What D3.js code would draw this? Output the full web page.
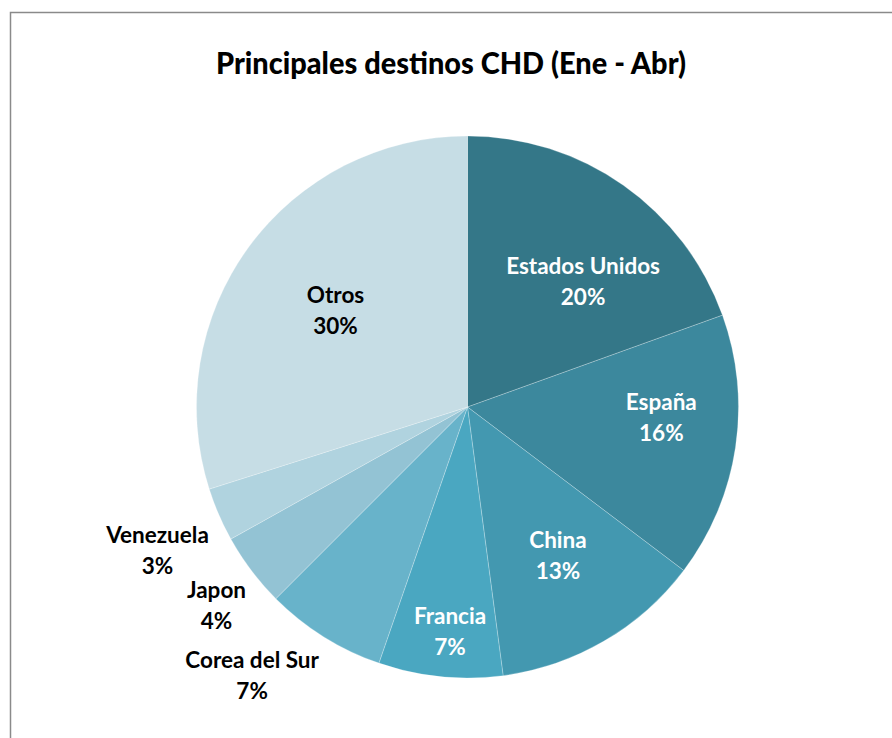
<!DOCTYPE html>
<html>
<head>
<meta charset="utf-8">
<script src="https://cdn.jsdelivr.net/npm/d3@7"></script>
<style>
  body { margin: 0; background: #fff; }
  text { font-family: Lato, "Open Sans", sans-serif; font-weight: bold; }
</style>
</head>
<body>
<div class="chart"></div>
<script>
var width = 892,
    height = 738;

// datos (porcentaje de participacion, Ene - Abr)
var paises = ["Estados Unidos", "España", "China", "Francia", "Corea del Sur", "Japon", "Venezuela", "Otros"];
var valores = [19.5, 15.8, 12.6, 7.4, 7.2, 4.4, 3.2, 29.9];
var colores = ["#347788", "#3c889d", "#4398b0", "#4aa7c1", "#68b3ca", "#93c3d4", "#b0d3df", "#c6dde5"];
var titulo = "Principales destinos CHD (Ene - Abr)";

// label placement: [radius factor, angle offset in degrees]
var etiquetas = [[0.63, 7.5], [0.716, -5.8], [0.64, -1.2], [0.83, -1.3],
                 [1.27, 6.7], [1.18, -1.2], [1.26, -1.4], [0.605, 0.2]];

var cx = 467.5, cy = 407, radius = 271;

var svg = d3.select(".chart").append("svg")
    .attr("width", width)
    .attr("height", height);

// chart frame (goes past the right / bottom edge)
svg.append("rect")
    .attr("x", 10.5)
    .attr("y", 12.5)
    .attr("width", 920)
    .attr("height", 800)
    .style("fill", "none")
    .style("stroke", "#8a8a8a")
    .style("stroke-width", 1.5);

svg.append("text")
    .attr("x", 451)
    .attr("y", 74)
    .attr("text-anchor", "middle")
    .attr("textLength", 470)
    .attr("lengthAdjust", "spacingAndGlyphs")
    .style("font-size", "30px")
    .style("font-weight", 900)
    .style("fill", "#000")
    .text(titulo);

var datos = paises.map((p, i) => ({ pais: p, valor: valores[i], color: colores[i], lab: etiquetas[i] }));

var pie = d3.pie()
    .value(d => d.valor)
    .sort(null);

var arc = d3.arc()
    .innerRadius(0)
    .outerRadius(radius);

const g = svg.append("g")
    .attr("transform", `translate(${cx}, ${cy})`);

var arcos = pie(datos);

g.selectAll("path")
    .data(arcos)
    .enter().append("path")
    .attr("d", arc)
    .style("fill", d => d.data.color)
    .style("stroke", "#ffffff")
    .style("stroke-opacity", 0.3)
    .style("stroke-width", 0.8);

var lbl = g.selectAll("g.lbl")
    .data(arcos)
    .enter().append("g")
    .attr("class", "lbl")
    .attr("transform", d => {
        var a = (d.startAngle + d.endAngle) / 2 + d.data.lab[1] * Math.PI / 180;
        var r = radius * d.data.lab[0];
        return `translate(${r * Math.sin(a)}, ${-r * Math.cos(a)})`;
    });

lbl.append("text")
    .attr("text-anchor", "middle")
    .attr("y", -7)
    .style("font-size", "22.5px")
    .style("fill", d => d.data.lab[0] > 1 || d.index == 7 ? "#000" : "#fff")
    .text(d => d.data.pais);

lbl.append("text")
    .attr("text-anchor", "middle")
    .attr("y", 24)
    .style("font-size", "22.5px")
    .style("fill", d => d.data.lab[0] > 1 || d.index == 7 ? "#000" : "#fff")
    .text(d => Math.round(d.data.valor) + "%");
</script>
</body>
</html>
